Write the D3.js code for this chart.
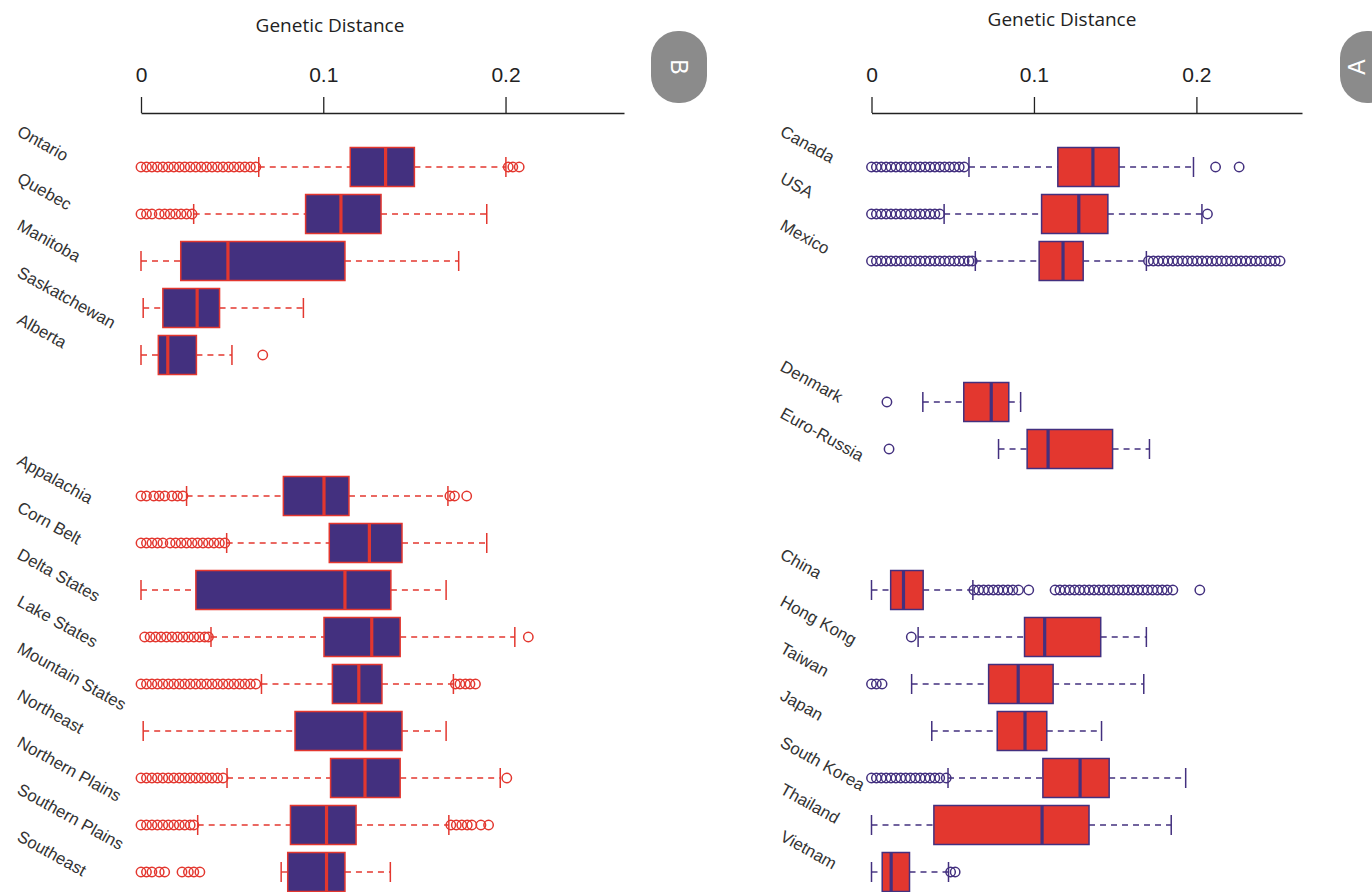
<!DOCTYPE html>
<html>
<head>
<meta charset="utf-8">
<script src="https://cdn.jsdelivr.net/npm/d3@7"></script>
<style>
  body { margin: 0; background: #fff; }
  svg { display: block; }
</style>
</head>
<body>
<div id="chart"></div>
<script>
// ---- data: panel B (regions of Canada / USA) ----
var leftSlots = ["Ontario", "Quebec", "Manitoba", "Saskatchewan", "Alberta", "_gap1", "_gap2",
  "Appalachia", "Corn Belt", "Delta States", "Lake States", "Mountain States", "Northeast",
  "Northern Plains", "Southern Plains", "Southeast"];
var leftCategories = ["Ontario", "Quebec", "Manitoba", "Saskatchewan", "Alberta",
  "Appalachia", "Corn Belt", "Delta States", "Lake States", "Mountain States", "Northeast",
  "Northern Plains", "Southern Plains", "Southeast"];
var leftWhiskerLow  = [0.0646, 0.0289, 0.000, 0.0012, 0.000, 0.025, 0.047, 0.000, 0.0384, 0.0661, 0.0012, 0.0472, 0.0311, 0.0769];
var leftQ1          = [0.1148, 0.0903, 0.0218, 0.012, 0.0095, 0.0781, 0.1033, 0.0301, 0.1004, 0.105, 0.0845, 0.104, 0.082, 0.0805];
var leftMedian      = [0.1342, 0.1097, 0.0477, 0.0308, 0.0147, 0.1004, 0.1253, 0.1119, 0.1266, 0.1195, 0.1229, 0.1229, 0.1018, 0.1018];
var leftQ3          = [0.150, 0.1317, 0.1119, 0.0431, 0.0304, 0.1141, 0.1432, 0.1371, 0.1422, 0.1322, 0.1432, 0.1422, 0.118, 0.1119];
var leftWhiskerHigh = [0.2002, 0.1897, 0.1743, 0.0891, 0.0499, 0.1684, 0.1897, 0.1674, 0.2051, 0.1714, 0.1674, 0.1971, 0.1689, 0.1368];
var leftOutliers = [
  [0.000, 0.003, 0.006, 0.009, 0.012, 0.015, 0.018, 0.021, 0.024, 0.027, 0.030, 0.033, 0.036, 0.039, 0.042, 0.045, 0.048, 0.051, 0.054, 0.057, 0.060, 0.063, 0.2015, 0.204, 0.2075],
  [0.000, 0.003, 0.006, 0.010, 0.013, 0.016, 0.019, 0.022, 0.025, 0.028],
  [],
  [],
  [0.0668],
  [0.000, 0.003, 0.007, 0.010, 0.013, 0.017, 0.020, 0.023, 0.1695, 0.172, 0.1787],
  [0.000, 0.003, 0.006, 0.009, 0.012, 0.016, 0.019, 0.022, 0.025, 0.028, 0.031, 0.034, 0.037, 0.040, 0.043, 0.046],
  [],
  [0.002, 0.005, 0.008, 0.011, 0.014, 0.017, 0.020, 0.023, 0.026, 0.029, 0.032, 0.035, 0.037, 0.2125],
  [0.000, 0.003, 0.006, 0.009, 0.012, 0.015, 0.018, 0.021, 0.024, 0.027, 0.030, 0.033, 0.036, 0.039, 0.042, 0.045, 0.048, 0.051, 0.054, 0.057, 0.060, 0.063, 0.1725, 0.175, 0.178, 0.1805, 0.1835],
  [],
  [0.000, 0.003, 0.006, 0.009, 0.012, 0.015, 0.018, 0.021, 0.024, 0.027, 0.030, 0.033, 0.036, 0.039, 0.042, 0.045, 0.2007],
  [0.000, 0.003, 0.006, 0.009, 0.012, 0.015, 0.018, 0.021, 0.024, 0.027, 0.029, 0.170, 0.173, 0.176, 0.179, 0.1815, 0.1865, 0.1907],
  [0.000, 0.003, 0.006, 0.010, 0.013, 0.0225, 0.026, 0.029, 0.0323]
];

// ---- data: panel A (countries) ----
var rightSlots = ["Canada", "USA", "Mexico", "_gap1", "_gap2", "Denmark", "Euro-Russia", "_gap3", "_gap4",
  "China", "Hong Kong", "Taiwan", "Japan", "South Korea", "Thailand", "Vietnam"];
var rightCategories = ["Canada", "USA", "Mexico", "Denmark", "Euro-Russia",
  "China", "Hong Kong", "Taiwan", "Japan", "South Korea", "Thailand", "Vietnam"];
var rightWhiskerLow  = [0.060, 0.0447, 0.0639, 0.0316, 0.0782, 0.000, 0.0287, 0.0247, 0.0371, 0.0471, 0.000, 0.000];
var rightQ1          = [0.1147, 0.1047, 0.1032, 0.0568, 0.0958, 0.0118, 0.0942, 0.0721, 0.0774, 0.1055, 0.0384, 0.0066];
var rightMedian      = [0.1363, 0.1276, 0.1179, 0.0737, 0.1087, 0.0197, 0.1066, 0.0903, 0.0945, 0.1284, 0.105, 0.0121];
var rightQ3          = [0.1524, 0.1455, 0.1303, 0.0845, 0.1484, 0.0318, 0.1411, 0.1118, 0.1079, 0.1463, 0.1339, 0.0234];
var rightWhiskerHigh = [0.1982, 0.2034, 0.1692, 0.0918, 0.1711, 0.0624, 0.1692, 0.1676, 0.1416, 0.1934, 0.1845, 0.0474];
var rightOutliers = [
  [0.000, 0.003, 0.006, 0.009, 0.012, 0.015, 0.018, 0.021, 0.024, 0.027, 0.030, 0.033, 0.036, 0.039, 0.042, 0.045, 0.048, 0.051, 0.054, 0.057, 0.2118, 0.2263],
  [0.000, 0.003, 0.006, 0.009, 0.012, 0.015, 0.018, 0.021, 0.024, 0.027, 0.030, 0.033, 0.036, 0.039, 0.042, 0.2068],
  [0.000, 0.003, 0.006, 0.009, 0.012, 0.015, 0.018, 0.021, 0.024, 0.027, 0.030, 0.033, 0.036, 0.039, 0.042, 0.045, 0.048, 0.051, 0.054, 0.057, 0.060, 0.062,
   0.1705, 0.1735, 0.1765, 0.1795, 0.1825, 0.1855, 0.1885, 0.1915, 0.1945, 0.1975, 0.2005, 0.2035, 0.2065, 0.2095, 0.2125, 0.2155, 0.2185, 0.2215, 0.2245, 0.2275, 0.2305, 0.2335, 0.2365, 0.2395, 0.2425, 0.2455, 0.2485, 0.2515],
  [0.0095],
  [0.0108],
  [0.063, 0.066, 0.069, 0.072, 0.075, 0.078, 0.081, 0.084, 0.087, 0.0905, 0.0968,
   0.113, 0.116, 0.119, 0.122, 0.125, 0.128, 0.131, 0.134, 0.137, 0.140, 0.143, 0.146, 0.149, 0.152, 0.155, 0.158, 0.161, 0.164, 0.167, 0.170, 0.173, 0.176, 0.179, 0.182, 0.1855, 0.2021],
  [0.0245],
  [0.000, 0.003, 0.0065],
  [],
  [0.000, 0.003, 0.006, 0.009, 0.012, 0.015, 0.018, 0.021, 0.024, 0.027, 0.030, 0.033, 0.036, 0.039, 0.042, 0.046],
  [],
  [0.0487, 0.0515]
];

var tickValues = [0, 0.1, 0.2];
var xMax = 0.265;

var purple = "#43307f",
    red = "#e3372f";

var width = 1372, height = 892;

var svg = d3.select("#chart").append("svg")
  .attr("width", width)
  .attr("height", height);

function drawPanel(p) {
  var g = svg.append("g");

  var x = d3.scaleLinear().domain([0, xMax]).range(p.xRange);
  var y = d3.scaleBand().domain(p.slots).range([143.5, 895.5]);
  var half = y.bandwidth() / 2;
  var boxH = 39;

  // title
  g.append("text")
    .attr("x", p.titleX)
    .attr("y", p.titleY)
    .attr("text-anchor", "middle")
    .attr("font-family", "'Open Sans', 'Noto Sans', sans-serif")
    .attr("font-size", 19)
    .attr("fill", "#222")
    .text("Genetic Distance");

  // axis on top, ticks pointing up
  var axis = g.append("g")
    .attr("transform", "translate(0,113)")
    .call(d3.axisTop(x)
      .tickValues(tickValues)
      .tickFormat(function(d) { return d === 0 ? "0" : d3.format(".1f")(d); })
      .tickSize(16)
      .tickSizeOuter(0)
      .tickPadding(15));
  axis.select(".domain").attr("stroke", "#222").attr("stroke-width", 1.3);
  axis.selectAll(".tick line").attr("stroke", "#222").attr("stroke-width", 1.3);
  axis.selectAll(".tick text")
    .attr("font-family", "'Liberation Sans Narrow', 'Arial Narrow', 'Liberation Sans', sans-serif")
    .attr("font-size", 21)
    .attr("fill", "#222");

  var rows = p.cats.map(function(c, i) {
    return { name: c, low: p.low[i], q1: p.q1[i], med: p.med[i], q3: p.q3[i], high: p.high[i], out: p.out[i] };
  });

  // slanted labels
  g.selectAll(".lab").data(rows).enter().append("text")
    .attr("class", "lab")
    .attr("transform", function(d) {
      var ly = y(d.name) + half - 32;
      return "translate(" + p.labelX + "," + ly + ") rotate(29)";
    })
    .attr("font-family", "'Liberation Sans', Arial, sans-serif")
    .attr("font-size", 16.8)
    .attr("fill", "#333")
    .text(function(d) { return d.name; });

  var row = g.selectAll(".row").data(rows).enter().append("g")
    .attr("class", "row")
    .attr("transform", function(d) { return "translate(0," + (y(d.name) + half) + ")"; });

  // dashed whiskers
  row.append("line")
    .attr("x1", function(d) { return x(d.low); })
    .attr("x2", function(d) { return x(d.q1); })
    .attr("stroke", p.line).attr("stroke-width", 1.4).attr("stroke-dasharray", "6,5");
  row.append("line")
    .attr("x1", function(d) { return x(d.q3); })
    .attr("x2", function(d) { return x(d.high); })
    .attr("stroke", p.line).attr("stroke-width", 1.4).attr("stroke-dasharray", "6,5");

  // caps
  row.selectAll(".cap").data(function(d) { return [d.low, d.high]; }).enter().append("line")
    .attr("class", "cap")
    .attr("x1", function(v) { return x(v); })
    .attr("x2", function(v) { return x(v); })
    .attr("y1", -10).attr("y2", 10)
    .attr("stroke", p.line).attr("stroke-width", 1.5);

  // box
  row.append("rect")
    .attr("x", function(d) { return x(d.q1); })
    .attr("y", -boxH / 2)
    .attr("width", function(d) { return x(d.q3) - x(d.q1); })
    .attr("height", boxH)
    .attr("fill", p.fill)
    .attr("stroke", p.line)
    .attr("stroke-width", 1.5);

  // median
  row.append("line")
    .attr("x1", function(d) { return x(d.med); })
    .attr("x2", function(d) { return x(d.med); })
    .attr("y1", -boxH / 2).attr("y2", boxH / 2)
    .attr("stroke", p.line).attr("stroke-width", 3.2);

  // outliers
  row.selectAll(".out").data(function(d) { return d.out; }).enter().append("circle")
    .attr("class", "out")
    .attr("cx", function(v) { return x(v); })
    .attr("cy", 0)
    .attr("r", 4.7)
    .attr("fill", "none")
    .attr("stroke", p.line)
    .attr("stroke-width", 1.5);

  // grey tab with panel letter
  g.append("rect")
    .attr("x", p.tabX).attr("y", 31)
    .attr("width", 56).attr("height", 72)
    .attr("rx", 27).attr("ry", 27)
    .attr("fill", "#8b8b8b");
  g.append("text")
    .attr("transform", "translate(" + p.letterX + ",67) rotate(" + p.letterRot + ")")
    .attr("text-anchor", "middle")
    .attr("dy", "0.36em")
    .attr("font-family", "'Liberation Sans', Arial, sans-serif")
    .attr("font-size", 23)
    .attr("fill", "#fff")
    .text(p.letter);
}

drawPanel({
  slots: leftSlots, cats: leftCategories,
  low: leftWhiskerLow, q1: leftQ1, med: leftMedian, q3: leftQ3, high: leftWhiskerHigh, out: leftOutliers,
  xRange: [141, 624], fill: purple, line: red,
  labelX: 16, titleX: 330, titleY: 32,
  tabX: 651, letterX: 679, letterRot: 90, letter: "B"
});

drawPanel({
  slots: rightSlots, cats: rightCategories,
  low: rightWhiskerLow, q1: rightQ1, med: rightMedian, q3: rightQ3, high: rightWhiskerHigh, out: rightOutliers,
  xRange: [871.5, 1302], fill: red, line: purple,
  labelX: 779, titleX: 1062, titleY: 26,
  tabX: 1340, letterX: 1357, letterRot: -90, letter: "A"
});
</script>
</body>
</html>
